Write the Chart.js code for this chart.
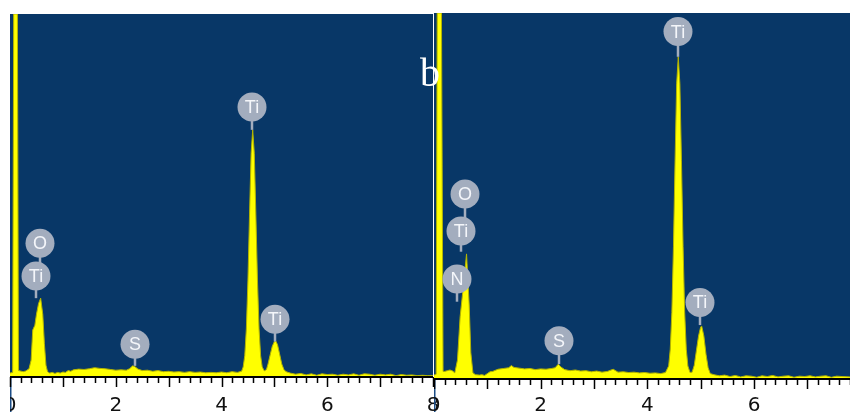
<!DOCTYPE html>
<html lang="en">
<head>
    <meta charset="UTF-8">
    <title>EDS spectra</title>
    <script src="https://cdn.jsdelivr.net/npm/chart.js"></script>
    <style>
        body { margin: 0; background: #fff; width: 850px; height: 412px; overflow: hidden; position: relative; }
        canvas { position: absolute; top: 0; }
        #left { left: 0; }
        #right { left: 434px; }
        .panel-tag { position: absolute; left: 420px; top: 53px; font: 40px "Liberation Serif", serif; line-height: 40px; color: #fff; z-index: 5; }
    </style>
</head>
<body>
    <canvas id="left" width="446" height="412"></canvas>
    <canvas id="right" width="416" height="412"></canvas>
    <div class="panel-tag">b</div>
    <script>
        // energy in keV, counts in % of the panel height
        const leftEnergy = [
            0, 0.05, 0.07, 0.14, 0.16, 0.25, 0.30, 0.36, 0.40, 0.43, 0.47,
            0.50, 0.54, 0.58, 0.62, 0.65, 0.68, 0.71, 0.75, 0.80, 0.85,
            0.90, 0.95, 1.00, 1.05, 1.10, 1.15, 1.20, 1.30, 1.40, 1.50,
            1.60, 1.70, 1.80, 1.90, 2.00, 2.10, 2.20, 2.26, 2.32, 2.36,
            2.42, 2.50, 2.60, 2.70, 2.80, 2.90, 3.00, 3.10, 3.20, 3.30,
            3.40, 3.50, 3.60, 3.70, 3.80, 3.90, 4.00, 4.10, 4.20, 4.30,
            4.38, 4.41, 4.44, 4.47, 4.50, 4.53, 4.56, 4.59, 4.62, 4.65,
            4.68, 4.71, 4.74, 4.77, 4.81, 4.85, 4.88, 4.92, 4.96, 5.00,
            5.03, 5.06, 5.10, 5.14, 5.18, 5.22, 5.30, 5.40, 5.50, 5.60,
            5.70, 5.80, 5.90, 6.00, 6.10, 6.20, 6.30, 6.40, 6.50, 6.60,
            6.70, 6.80, 6.90, 7.00, 7.10, 7.20, 7.30, 7.40, 7.50, 7.60,
            7.70, 7.80, 7.90, 8.00
        ];
        const leftCounts = [
            0.8, 1.0, 100, 100, 1.5, 1.2, 1.4, 2.0, 4.4, 12.7, 14.0,
            17.0, 20.0, 21.5, 17.0, 9.0, 3.0, 1.2, 0.8, 1.0, 0.7,
            1.0, 0.8, 1.1, 1.0, 1.5, 1.3, 1.7, 1.9, 1.8, 2.0,
            2.3, 2.1, 2.0, 1.8, 1.6, 1.7, 1.6, 2.0, 2.8, 2.6,
            1.9, 1.5, 1.6, 1.3, 1.5, 1.2, 1.3, 1.1, 1.2, 1.0,
            1.2, 1.0, 1.1, 0.9, 1.0, 0.9, 1.1, 0.9, 1.2, 1.0,
            1.3, 2.5, 5.6, 13.0, 26.5, 44.5, 61.5, 68.0, 61.5, 44.5,
            26.5, 13.0, 5.6, 2.5, 1.4, 1.8, 3.3, 5.8, 8.2, 9.5,
            9.6, 8.6, 6.0, 3.3, 1.8, 1.2, 0.8, 0.5, 0.7, 0.3,
            0.6, 0.2, 0.6, 0.4, 0.5, 0.2, 0.5, 0.3, 0.6, 0.2,
            0.6, 0.5, 0.2, 0.5, 0.3, 0.5, 0.1, 0.4, 0.2, 0.3,
            0.1, 0.2, 0.1, 0.1
        ];
        const rightEnergy = [
            0, 0.04, 0.06, 0.14, 0.17, 0.20, 0.25, 0.30, 0.35, 0.39, 0.44, 0.49,
            0.55, 0.61, 0.66, 0.69, 0.73, 0.78, 0.85, 0.90, 0.95, 1.00,
            1.05, 1.10, 1.20, 1.30, 1.40, 1.45, 1.50, 1.60, 1.70, 1.80,
            1.90, 2.00, 2.10, 2.20, 2.27, 2.33, 2.38, 2.45, 2.55, 2.65,
            2.75, 2.85, 2.95, 3.05, 3.15, 3.25, 3.36, 3.45, 3.55, 3.65,
            3.75, 3.85, 3.95, 4.05, 4.15, 4.25, 4.34, 4.40, 4.43, 4.46,
            4.49, 4.52, 4.55, 4.58, 4.61, 4.64, 4.67, 4.70, 4.73, 4.76,
            4.80, 4.84, 4.88, 4.92, 4.96, 5.00, 5.02, 5.06, 5.10, 5.14,
            5.18, 5.25, 5.35, 5.45, 5.55, 5.65, 5.75, 5.85, 5.95, 6.05,
            6.15, 6.25, 6.35, 6.45, 6.55, 6.65, 6.75, 6.85, 6.95, 7.05,
            7.15, 7.25, 7.35, 7.45, 7.55, 7.65, 7.80
        ];
        const rightCounts = [
            0.8, 1.0, 100, 100, 1.8, 1.8, 2.0, 2.2, 1.9, 1.4, 4.9, 16.8,
            25.0, 34.0, 20.0, 7.0, 1.4, 0.9, 0.8, 0.9, 0.7, 1.2,
            1.7, 1.8, 2.4, 2.6, 2.8, 3.4, 2.9, 2.7, 2.5, 2.6,
            2.3, 2.5, 2.4, 2.6, 2.8, 3.8, 3.0, 2.3, 2.0, 2.2,
            1.9, 2.0, 1.7, 1.9, 1.6, 1.8, 2.4, 1.6, 1.7, 1.5,
            1.6, 1.4, 1.5, 1.3, 1.4, 1.2, 1.5, 3.3, 7.9, 18.0,
            36.0, 59.5, 80.6, 88.0, 80.6, 59.5, 36.0, 18.0, 7.9, 3.3,
            1.5, 1.6, 3.5, 7.5, 11.5, 14.0, 14.2, 11.5, 6.5, 2.8,
            1.2, 0.9, 0.6, 0.8, 0.4, 0.7, 0.3, 0.6, 0.5, 0.2,
            0.6, 0.4, 0.7, 0.3, 0.5, 0.6, 0.2, 0.5, 0.4, 0.6,
            0.3, 0.5, 0.6, 0.2, 0.5, 0.4, 0.3
        ];

        // element markers: circle at (E, V), stem down to stemEnd
        const leftTagNames = ['O', 'Ti', 'S', 'Ti', 'Ti'];
        const leftTagE = [0.57, 0.50, 2.36, 4.58, 5.01];
        const leftTagV = [36.7, 27.6, 8.8, 74.3, 15.7];
        const leftTagStem = [27.6, 21.5, 2.8, 68.0, 9.5];

        const rightTagNames = ['O', 'Ti', 'N', 'S', 'Ti', 'Ti'];
        const rightTagE = [0.58, 0.51, 0.44, 2.34, 4.57, 4.98];
        const rightTagV = [50.4, 40.3, 27.1, 10.2, 94.9, 20.7];
        const rightTagStem = [40.3, 34.6, 20.9, 3.8, 88.0, 14.5];

        const leftTicks = [0, 2, 4, 6, 8];
        const rightTicks = [0, 2, 4, 6];

        const BG = '#083767';
        const TAG = '#a3adbe';

        function makePanel(id, energy, counts, xMax, pad, ticks, names, tagE, tagV, tagStem) {
            const points = energy.map((e, i) => ({ x: e, y: counts[i] }));

            const spectrumPlugin = {
                id: 'spectrum',
                beforeDraw(chart) {
                    const { ctx, chartArea: a } = chart;
                    ctx.save();
                    ctx.fillStyle = BG;
                    ctx.fillRect(a.left, a.top, a.right - a.left, a.bottom - a.top);
                    ctx.restore();
                },
                afterDatasetsDraw(chart) {
                    const { ctx, scales: { x, y } } = chart;
                    ctx.save();
                    ctx.strokeStyle = TAG;
                    ctx.lineWidth = 2.5;
                    names.forEach((n, i) => {
                        const px = Math.round(x.getPixelForValue(tagE[i]));
                        ctx.beginPath();
                        ctx.moveTo(px, y.getPixelForValue(tagV[i]));
                        ctx.lineTo(px, y.getPixelForValue(tagStem[i]));
                        ctx.stroke();
                    });
                    ctx.font = '18px "Liberation Sans", Arial, sans-serif';
                    ctx.textAlign = 'center';
                    ctx.textBaseline = 'middle';
                    names.forEach((n, i) => {
                        const px = Math.round(x.getPixelForValue(tagE[i]));
                        const py = y.getPixelForValue(tagV[i]);
                        ctx.fillStyle = TAG;
                        ctx.beginPath();
                        ctx.arc(px, py, 14.5, 0, Math.PI * 2);
                        ctx.fill();
                        ctx.fillStyle = '#f4f6fa';
                        ctx.fillText(n, px, py + 1);
                    });
                    ctx.restore();
                },
                afterDraw(chart) {
                    const { ctx, chartArea: a, scales: { x } } = chart;
                    ctx.save();
                    // left border line of the panel below the axis
                    ctx.fillStyle = '#1b4c85';
                    ctx.fillRect(a.left, a.bottom, 1.5, chart.height - a.bottom);
                    // axis line
                    ctx.strokeStyle = '#000';
                    ctx.lineWidth = 2;
                    ctx.beginPath();
                    ctx.moveTo(a.left, a.bottom + 1);
                    ctx.lineTo(a.right, a.bottom + 1);
                    ctx.stroke();
                    // minor ticks every 0.2 keV, long ones at whole keV
                    ctx.lineWidth = 1.5;
                    for (let i = 0; i <= Math.floor(xMax * 5 + 1e-6); i++) {
                        const px = Math.round(x.getPixelForValue(i / 5)) + 0.5;
                        const len = i % 5 === 0 ? 10 : 6;
                        ctx.beginPath();
                        ctx.moveTo(px, a.bottom + 1);
                        ctx.lineTo(px, a.bottom + 1 + len);
                        ctx.stroke();
                    }
                    // tick labels, cut at the panel's left edge
                    ctx.beginPath();
                    ctx.rect(a.left, a.bottom, chart.width - a.left, chart.height - a.bottom);
                    ctx.clip();
                    ctx.fillStyle = '#111';
                    ctx.font = '20px "DejaVu Sans", sans-serif';
                    ctx.textAlign = 'center';
                    ctx.textBaseline = 'alphabetic';
                    ticks.forEach(t => ctx.fillText(String(t), x.getPixelForValue(t), chart.height - 1));
                    ctx.restore();
                }
            };

            return new Chart(document.getElementById(id), {
                type: 'line',
                data: {
                    datasets: [{
                        data: points,
                        fill: 'origin',
                        backgroundColor: '#ffff00',
                        borderColor: '#b4b400',
                        borderWidth: 1,
                        pointRadius: 0,
                        tension: 0,
                        clip: 0
                    }]
                },
                options: {
                    responsive: false,
                    animation: false,
                    layout: { padding: pad },
                    plugins: { legend: { display: false }, tooltip: { enabled: false } },
                    scales: {
                        x: { type: 'linear', min: 0, max: xMax, display: false },
                        y: { min: 0, max: 100, display: false }
                    }
                },
                plugins: [spectrumPlugin]
            });
        }

        makePanel('left', leftEnergy, leftCounts, 8,
            { left: 10, right: 13, top: 14, bottom: 36 }, leftTicks,
            leftTagNames, leftTagE, leftTagV, leftTagStem);
        makePanel('right', rightEnergy, rightCounts, 7.8,
            { left: 0, right: 0, top: 13, bottom: 34 }, rightTicks,
            rightTagNames, rightTagE, rightTagV, rightTagStem);
    </script>
</body>
</html>
